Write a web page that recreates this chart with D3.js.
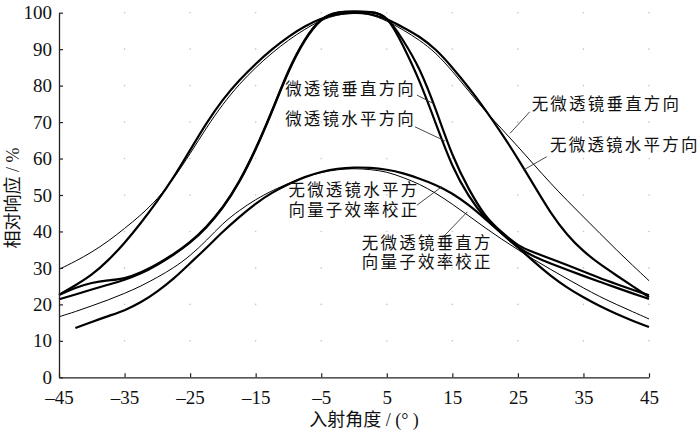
<!DOCTYPE html>
<html>
<head>
<meta charset="utf-8">
<script src="https://cdn.jsdelivr.net/npm/d3@7.9.0/dist/d3.min.js"></script>
<style>
  body { margin: 0; background: #fff; }
  .tick text { font-family: "Liberation Serif", serif; font-size: 19px; fill: #111; }
  .lbl { font-family: "Noto Sans CJK SC", sans-serif; font-size: 16.5px; letter-spacing: 2.2px; fill: #111; }
  .title { font-family: "Liberation Serif", "Noto Sans CJK SC", serif; font-size: 18px; fill: #111; }
</style>
</head>
<body>
<svg id="chart" width="700" height="435"></svg>
<script>
// incidence angle (deg) sampled every 2.5
const angles = [-45, -42.5, -40, -37.5, -35, -32.5, -30, -27.5, -25, -22.5, -20, -17.5, -15, -12.5, -10, -7.5, -5, -2.5,
  0, 2.5, 5, 7.5, 10, 12.5, 15, 17.5, 20, 22.5, 25, 27.5, 30, 32.5, 35, 37.5, 40, 42.5, 45];

// 微透镜垂直方向
const lensV = [22.6, 24.6, 26, 26.6, 27, 28.7, 31, 33.8, 37, 41.2, 46.5, 53.5, 62.5, 73, 84.5, 93, 98.8, 100.3,
  100.3, 100.3, 99.3, 92.5, 85, 73.5, 60.5, 51.5, 44, 39.8, 36, 34.2, 32.5, 30.8, 29, 27.2, 25.6, 24, 22.5];
// 微透镜水平方向
const lensH = [21.4, 22.7, 24.1, 25.4, 26.7, 28.4, 30.8, 33.6, 36.8, 41, 46.3, 53.3, 62.3, 72.8, 84.2, 92.8, 98.6, 100.2,
  100.3, 100.3, 99.6, 91, 81.5, 69.5, 57.5, 49.5, 43.5, 39.5, 35.5, 33, 31.2, 29.5, 27.8, 26.2, 24.6, 23, 21.5];
// 无微透镜垂直方向
const noLensV = [29.6, 31.8, 34.3, 37.3, 40.8, 44.5, 48.8, 54.5, 61.3, 68.5, 75, 80.4, 85, 89, 92.5, 95.5, 98, 99.5,
  100, 99.6, 97.8, 95.3, 92.5, 89, 84, 78.5, 73, 68.2, 63.3, 58.2, 53.2, 48.5, 44, 39.5, 35, 30.7, 26.5];
// 无微透镜水平方向
const noLensH = [22.6, 25.2, 28, 32, 36.8, 42.3, 48.3, 54.8, 62.3, 69.8, 76.3, 81.5, 86, 90, 93.5, 96.3, 98.5, 99.7,
  100, 99.8, 98.3, 96, 93.5, 90, 85, 79.5, 73.5, 67, 60, 52.5, 45, 39, 34.5, 31, 28, 25, 22];
// 无微透镜水平方向量子效率校正
const noLensHQ = [null, 13.5, 15.2, 16.8, 18.3, 20.5, 23.5, 27, 31.3, 35.5, 40, 44, 47.7, 50.7, 53, 55, 56.4, 57.3,
  57.6, 57.5, 57, 56, 54.5, 52.8, 50.5, 47.3, 43.5, 39.5, 35.7, 31.6, 27.8, 24.6, 21.9, 19.5, 17.4, 15.5, 13.8];
// 无微透镜垂直方向量子效率校正
const noLensVQ = [16.6, 18, 19.6, 21.2, 23, 25, 27.4, 30, 33.3, 37.5, 42.3, 45.8, 48.8, 51.2, 53.2, 55, 56.2, 57,
  57.3, 57, 56.4, 54.8, 53, 50.5, 47.5, 44.3, 41, 37.9, 35, 32.2, 29.6, 27, 24.5, 22.1, 20, 18, 16];

const xTicks = [-45, -35, -25, -15, -5, 5, 15, 25, 35, 45];
const yTicks = [0, 10, 20, 30, 40, 50, 60, 70, 80, 90, 100];

const series = [
  { values: lensV, w: 2.2 },
  { values: lensH, w: 2.2 },
  { values: noLensV, w: 1 },
  { values: noLensH, w: 2.2 },
  { values: noLensHQ, w: 2.2 },
  { values: noLensVQ, w: 1 }
];

// labels: text lines, anchor (angle, value), leader from -> to
const labels = [
  { lines: ['微透镜垂直方向'], at: [-10.5, 77.4], from: [9.6, 77.4], to: [12.1, 75.1] },
  { lines: ['微透镜水平方向'], at: [-10.5, 69.3], from: [9.3, 68.7], to: [13.9, 64.8] },
  { lines: ['无微透镜垂直方向'], at: [27.1, 73.3], from: [26.8, 72.8], to: [23.8, 66.9] },
  { lines: ['无微透镜水平方向'], at: [29.9, 62.1], from: [29.4, 60.5], to: [25.8, 56.8] },
  { lines: ['无微透镜水平方', '向量子效率校正'], at: [-10, 49.6], from: [9.6, 47.2], to: [13.4, 52.3] },
  { lines: ['无微透镜垂直方', '向量子效率校正'], at: [1.2, 35.3], from: [13.5, 38.3], to: [17.3, 45.4] }
];

const svg = d3.select('#chart');
const x = d3.scaleLinear().domain([-45, 45]).range([59, 649]);
const y = d3.scaleLinear().domain([0, 100]).range([377.3, 12.7]);

// faint grid dots
xTicks.slice(1).forEach(a => {
  yTicks.slice(1).forEach(v => {
    svg.append('circle').attr('cx', x(a)).attr('cy', y(v)).attr('r', 0.8).attr('fill', '#c4c4c4');
  });
});

const line = d3.line()
  .defined(d => d[1] != null)
  .x(d => x(d[0]))
  .y(d => y(d[1]))
  .curve(d3.curveBasis);

series.forEach(s => {
  svg.append('path')
    .attr('d', line(angles.map((a, i) => [a, s.values[i]])))
    .attr('fill', 'none')
    .attr('stroke', '#000')
    .attr('stroke-width', s.w)
    .attr('stroke-linejoin', 'round');
});

// axes
const gx = svg.append('g').attr('transform', `translate(0,${y(0)})`)
  .call(d3.axisBottom(x).tickValues(xTicks)
    .tickFormat(d => d < 0 ? '\u2013' + Math.abs(d) : d)
    .tickSizeInner(-4).tickSizeOuter(0).tickPadding(13));
const gy = svg.append('g').attr('transform', `translate(${x(-45)},0)`)
  .call(d3.axisLeft(y).tickValues(yTicks)
    .tickSizeInner(-4).tickSizeOuter(0).tickPadding(7));
[gx, gy].forEach(g => {
  g.select('.domain').attr('stroke', '#222').attr('stroke-width', 1.3);
  g.selectAll('.tick line').attr('stroke', '#222').attr('stroke-width', 1.2);
});

// annotations
labels.forEach(l => {
  svg.append('line')
    .attr('x1', x(l.from[0])).attr('y1', y(l.from[1]))
    .attr('x2', x(l.to[0])).attr('y2', y(l.to[1]))
    .attr('stroke', '#333').attr('stroke-width', 0.9);
  const t = svg.append('text').attr('class', 'lbl')
    .attr('x', x(l.at[0]))
    .attr('y', y(l.at[1]))
    .attr('dy', '0.36em');
  l.lines.forEach((s, i) => {
    t.append('tspan').attr('x', x(l.at[0])).attr('dy', i === 0 ? 0 : 19.5).text(s);
  });
});

// axis titles
svg.append('text').attr('class', 'title')
  .attr('x', 364).attr('y', 420)
  .attr('text-anchor', 'middle').attr('dominant-baseline', 'central')
  .text('入射角度 / (° )');
svg.append('text').attr('class', 'title')
  .attr('transform', 'translate(13,198) rotate(-90)')
  .attr('text-anchor', 'middle').attr('dominant-baseline', 'central')
  .text('相对响应 / %');
</script>
</body>
</html>
